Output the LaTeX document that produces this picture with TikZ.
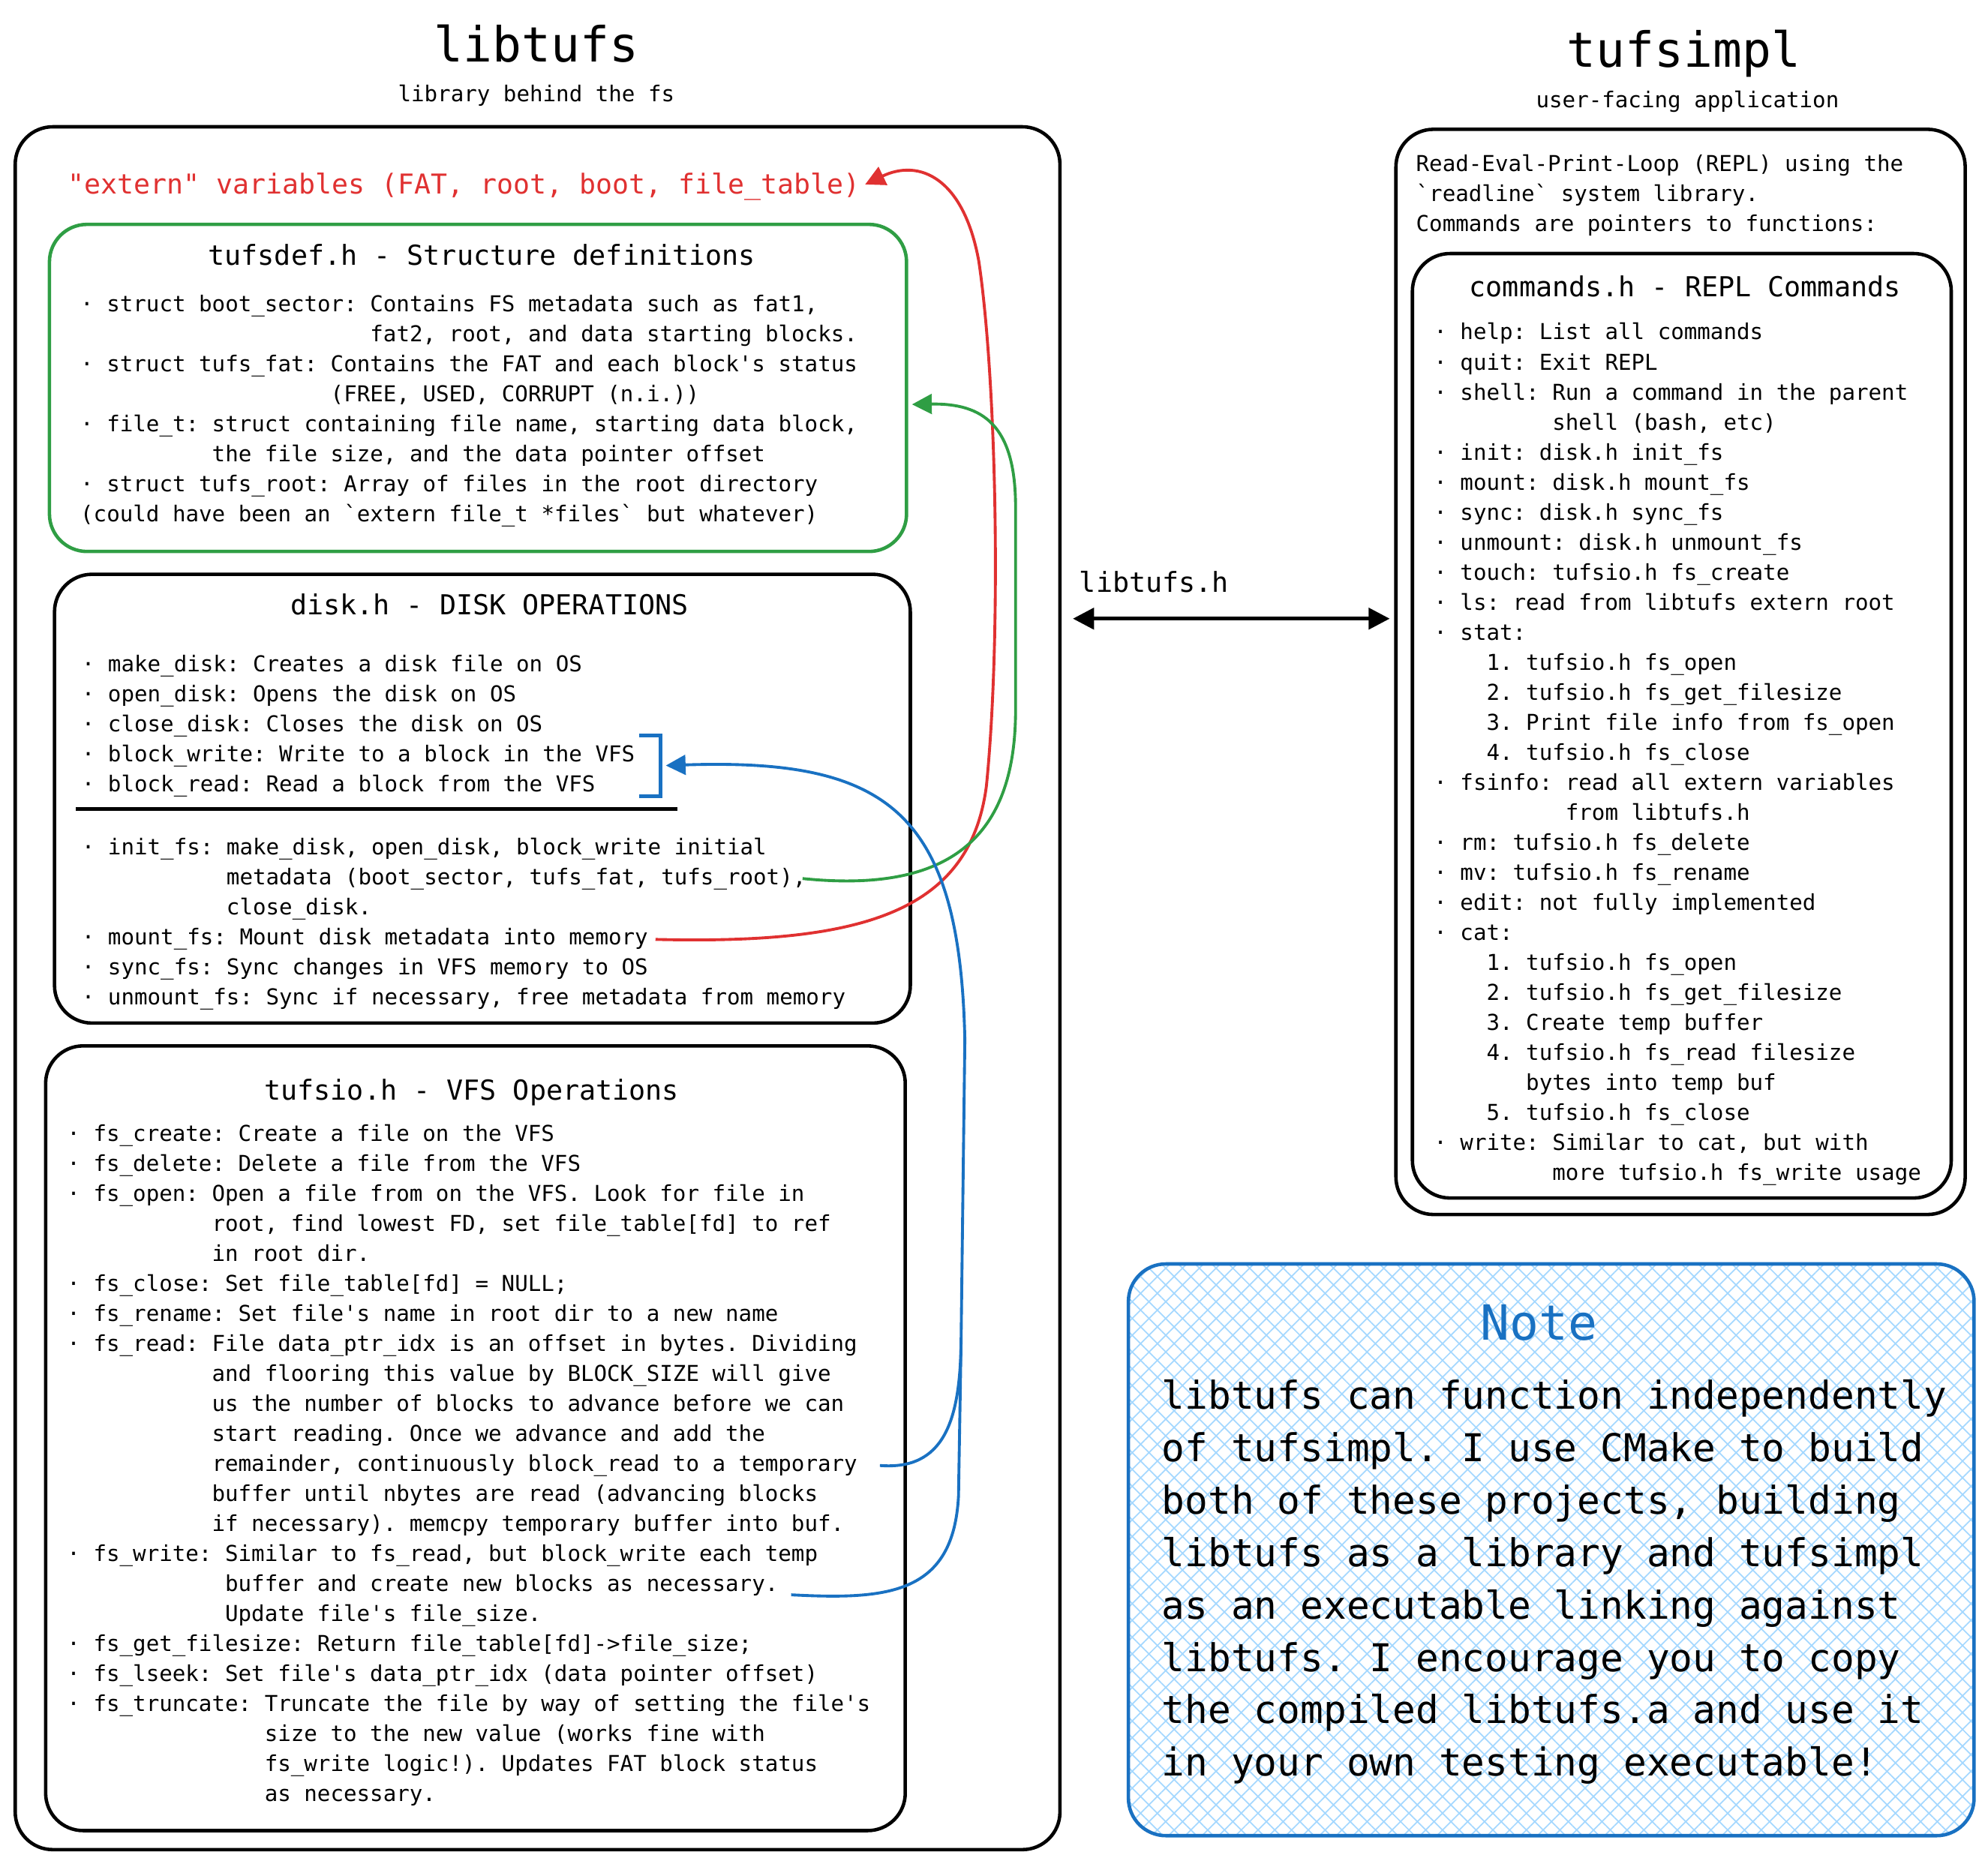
\documentclass[tikz,border=0pt]{standalone}
\usepackage{fontspec}
\setmonofont{DejaVu Sans Mono}
\usetikzlibrary{positioning,calc,fit,arrows.meta,patterns.meta}

\definecolor{exred}{HTML}{E03131}
\definecolor{exgreen}{HTML}{2F9E44}
\definecolor{exblue}{HTML}{1971C2}
\definecolor{exhatch}{HTML}{A5D8FF}

\newcommand{\ind}[1]{\hspace*{#1\dimexpr 0.602em\relax}}
\frenchspacing

\begin{document}
\begin{tikzpicture}[x=0.0169cm, y=-0.0169cm]
	\tikzset{box/.style={draw, line width=1.3pt, rounded corners=0.5cm, inner sep=0pt}};
	% multi-line texts sit on the baseline of their last line
	\tikzset{body/.style={anchor=base west, align=left, inner sep=0pt, font=\ttfamily\fontsize{8.3}{11.39}\selectfont}};
	\tikzset{head/.style={anchor=base, inner sep=0pt, font=\ttfamily\fontsize{10.45}{12}\selectfont}};
	\tikzset{bigtitle/.style={anchor=base, inner sep=0pt, font=\ttfamily\fontsize{18.4}{22}\selectfont}};
	\tikzset{link/.style={line width=1.1pt, -{Triangle[length=7.5pt,width=7.5pt]}}};
	\useasboundingbox (0,0) rectangle (1568,1470);

	\node[bigtitle] (libtitle) at (423,49) {libtufs};
	\node[body, anchor=base] (libsub) at (423,80) {library behind the fs};
	\node[bigtitle] (impltitle) at (1328,53) {tufsimpl};
	\node[body, anchor=base] (implsub) at (1331,85) {user-facing application};

	% frames
	\node[box, fit={(12,100) (836,1459)}] (libbox) {};
	\node[box, draw=exgreen, fit={(39,177) (715,435)}] (defbox) {};
	\node[box, fit={(43,453) (718,807)}] (diskbox) {};
	\node[box, fit={(36,825) (714,1444)}] (iobox) {};
	\node[box, fit={(1101,102) (1550,958)}] (replbox) {};
	\node[box, fit={(1114,200) (1539,945)}] (cmdbox) {};
	\node[box, draw=exblue, pattern={Hatch[angle=45,distance=4.5pt,line width=0.5pt]}, pattern color=exhatch, fit={(890,997) (1557,1448)}] (notebox) {};

	\node[head, anchor=base west, text=exred, font=\ttfamily\fontsize{10.4}{12}\selectfont] (externvars) at (53,153) {"extern" variables (FAT, root, boot, file\_table)};

	\node[head] (deftitle) at (380,209) {tufsdef.h - Structure definitions};
	\node[body] (deftext) at (63,411.8) {· struct boot\_sector: Contains FS metadata such as fat1,\\
\ind{22}fat2, root, and data starting blocks.\\
· struct tufs\_fat: Contains the FAT and each block's status\\
\ind{19}(FREE, USED, CORRUPT (n.i.))\\
· file\_t: struct containing file name, starting data block,\\
\ind{10}the file size, and the data pointer offset\\
· struct tufs\_root: Array of files in the root directory\\
(could have been an `extern file\_t *files` but whatever)};

	\node[head] (disktitle) at (386,485) {disk.h - DISK OPERATIONS};
	\node[body] (disktop) at (64,624.7) {· make\_disk: Creates a disk file on OS\\
· open\_disk: Opens the disk on OS\\
· close\_disk: Closes the disk on OS\\
· block\_write: Write to a block in the VFS\\
· block\_read: Read a block from the VFS};
	\draw[line width=1.3pt] (60,638) -- (534,638);
	\node[body] (diskbot) at (64,792.4) {· init\_fs: make\_disk, open\_disk, block\_write initial\\
\ind{11}metadata (boot\_sector, tufs\_fat, tufs\_root),\\
\ind{11}close\_disk.\\
· mount\_fs: Mount disk metadata into memory\\
· sync\_fs: Sync changes in VFS memory to OS\\
· unmount\_fs: Sync if necessary, free metadata from memory};

	\coordinate (bracket) at (521,604);
	\draw[exblue, line width=1.3pt] ($(bracket)+(-17,-24)$) -- ++(17,0) -- ++(0,48) -- ++(-17,0);

	\node[head] (iotitle) at (372,868) {tufsio.h - VFS Operations};
	\node[body] (iotext) at (52.5,1421) {· fs\_create: Create a file on the VFS\\
· fs\_delete: Delete a file from the VFS\\
· fs\_open: Open a file from on the VFS. Look for file in\\
\ind{11}root, find lowest FD, set file\_table[fd] to ref\\
\ind{11}in root dir.\\
· fs\_close: Set file\_table[fd] = NULL;\\
· fs\_rename: Set file's name in root dir to a new name\\
· fs\_read: File data\_ptr\_idx is an offset in bytes. Dividing\\
\ind{11}and flooring this value by BLOCK\_SIZE will give\\
\ind{11}us the number of blocks to advance before we can\\
\ind{11}start reading. Once we advance and add the\\
\ind{11}remainder, continuously block\_read to a temporary\\
\ind{11}buffer until nbytes are read (advancing blocks\\
\ind{11}if necessary). memcpy temporary buffer into buf.\\
· fs\_write: Similar to fs\_read, but block\_write each temp\\
\ind{12}buffer and create new blocks as necessary.\\
\ind{12}Update file's file\_size.\\
· fs\_get\_filesize: Return file\_table[fd]->file\_size;\\
· fs\_lseek: Set file's data\_ptr\_idx (data pointer offset)\\
· fs\_truncate: Truncate the file by way of setting the file's\\
\ind{15}size to the new value (works fine with\\
\ind{15}fs\_write logic!). Updates FAT block status\\
\ind{15}as necessary.};

	\node[body] (repltext) at (1116.5,182.4) {Read-Eval-Print-Loop (REPL) using the\\
`readline` system library.\\
Commands are pointers to functions:};
	\node[head] (cmdtitle) at (1329,234) {commands.h - REPL Commands};
	\node[body] (cmdtext) at (1130.5,931) {· help: List all commands\\
· quit: Exit REPL\\
· shell: Run a command in the parent\\
\ind{9}shell (bash, etc)\\
· init: disk.h init\_fs\\
· mount: disk.h mount\_fs\\
· sync: disk.h sync\_fs\\
· unmount: disk.h unmount\_fs\\
· touch: tufsio.h fs\_create\\
· ls: read from libtufs extern root\\
· stat:\\
\ind{4}1. tufsio.h fs\_open\\
\ind{4}2. tufsio.h fs\_get\_filesize\\
\ind{4}3. Print file info from fs\_open\\
\ind{4}4. tufsio.h fs\_close\\
· fsinfo: read all extern variables\\
\ind{10}from libtufs.h\\
· rm: tufsio.h fs\_delete\\
· mv: tufsio.h fs\_rename\\
· edit: not fully implemented\\
· cat:\\
\ind{4}1. tufsio.h fs\_open\\
\ind{4}2. tufsio.h fs\_get\_filesize\\
\ind{4}3. Create temp buffer\\
\ind{4}4. tufsio.h fs\_read filesize\\
\ind{7}bytes into temp buf\\
\ind{4}5. tufsio.h fs\_close\\
· write: Similar to cat, but with\\
\ind{9}more tufsio.h fs\_write usage};

	% note
	\node[bigtitle, text=exblue] (notetitle) at (1214,1057) {Note};
	\node[body, font=\ttfamily\fontsize{14.55}{19.89}\selectfont] (notetext) at (916,1401) {libtufs can function independently\\
of tufsimpl. I use CMake to build\\
both of these projects, building\\
libtufs as a library and tufsimpl\\
as an executable linking against\\
libtufs. I encourage you to copy\\
the compiled libtufs.a and use it\\
in your own testing executable!};

	% api arrow
	\coordinate (arrowrow) at (0,488);
	\draw[line width=1.4pt, {Triangle[length=8pt,width=8pt]}-{Triangle[length=8pt,width=8pt]}, shorten <=0.15cm, shorten >=0.06cm] (libbox.east |- arrowrow) -- (replbox.west |- arrowrow);
	\node[head, anchor=base west] (apilabel) at (851,467) {libtufs.h};

	% links
	\coordinate (mountend) at (517,741);
	\coordinate (initend) at (633,693);
	\coordinate (readend) at (694,1156);
	\coordinate (writeend) at (624,1258);
	\coordinate (bluejoin) at (758,1060);
	\draw[link, exred, shorten >=0.07cm] (mountend) .. controls (680,745) and (765,720) .. (778,620) .. controls (790,500) and (786,300) .. (772,206) .. controls (760,140) and (725,125) .. (externvars.east);
	\draw[link, exgreen, shorten >=0.05cm] (initend) .. controls (750,705) and (801,660) .. (801,560) -- (801,400) .. controls (801,335) and (775,318) .. ($(defbox.north east)!0.55!(defbox.south east)$);
	\draw[link, exblue, shorten >=0.07cm] (readend) .. controls (745,1160) and (757,1120) .. (bluejoin) -- (761,820) .. controls (757,640) and (700,598) .. (bracket);
	\draw[line width=1.1pt, exblue] (writeend) .. controls (700,1262) and (752,1258) .. (756,1180) -- (bluejoin);

\end{tikzpicture}
\end{document}
